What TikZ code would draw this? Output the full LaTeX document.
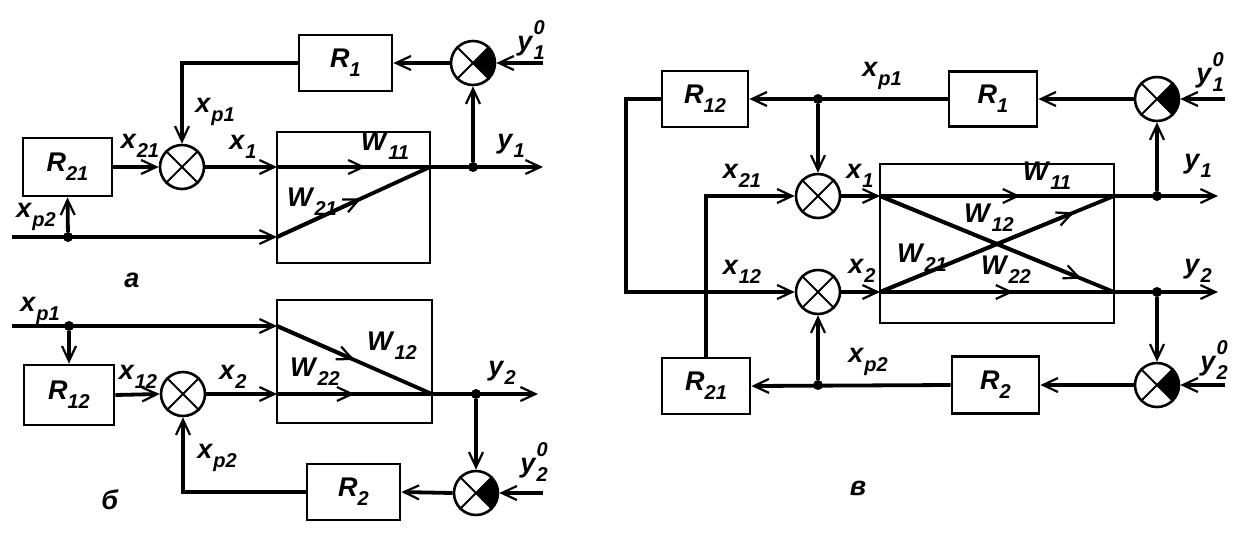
\documentclass[tikz,border=0pt]{standalone}
\usepackage{fontspec}
\setmainfont{Liberation Sans}
\usetikzlibrary{arrows.meta,calc}
\newcommand\lab[2]{\textit{#1}\raisebox{-0.34em}{\fontsize{20}{20}\selectfont\textit{#2}}}
\newcommand\labz[2]{\textit{#1}\rlap{\raisebox{0.62em}{\fontsize{20}{20}\selectfont\textit{0}}}\raisebox{-0.34em}{\fontsize{20}{20}\selectfont\textit{#2}}}
\newcommand\blackq[1]{\begin{scope}\clip (#1.center) -- ++(40,40) -- ++(0,-80) -- cycle;\fill (#1.center) circle[radius=22];\end{scope}}
\newcommand\midarr[3]{\draw[sig,->] (#1) -- ($(#1)!#3!(#2)$);}
\newcommand\xlines[1]{\draw[xl] (#1.45) -- (#1.225) (#1.135) -- (#1.315);}
\begin{document}
\begin{tikzpicture}[x=1pt,y=-1pt,
  >={Straight Barb[length=15pt,width=14pt,line width=2.2pt]},
  sig/.style={line width=3.8pt},
  box/.style={draw,line width=2.8pt,inner sep=0,font=\fontsize{27}{29}\selectfont\bfseries},
  wbox/.style={draw,line width=2.8pt,inner sep=0},
  sumn/.style={draw,circle,line width=2.6pt,minimum size=44,inner sep=0},
  xl/.style={line width=2pt},
  lbl/.style={inner sep=0,font=\fontsize{27}{29}\selectfont\bfseries},
  dotn/.style={circle,fill,minimum size=10,inner sep=0}]
\useasboundingbox (0,0) rectangle (1243,542);

% ================= a =================
\node[box,minimum width=93,minimum height=56] (aR1) at (345.5,63) {\lab{R}{1}};
\node[sumn] (aC) at (473,63) {};
\node[sumn] (aS) at (182,167) {};
\node[box,minimum width=89,minimum height=58] (aR21) at (67.5,167) {\lab{R}{21}};
\node[wbox,minimum width=153,minimum height=131] (aW) at (353.5,197.5) {};
\coordinate (aWi1) at (277,167);
\coordinate (aWo) at (430,167);
\coordinate (aWi2) at (277,237);
\coordinate (aOut) at (543,167);
\coordinate (aIn0) at (543,63);
\coordinate (aInp2) at (12,237);
\node[dotn] (aDy) at (473,167) {};
\node[dotn] (aDp) at (68,237) {};
\blackq{aC}
\xlines{aC}
\xlines{aS}
\draw[sig,->] (aIn0) -- (aC.east);
\draw[sig,->] (aC.west) -- (aR1.east);
\draw[sig,->] (aR1.west) -| (aS.north);
\draw[sig,->] (aR21.east) -- (aS.west);
\draw[sig] (aWi1) -- (aWo);
\draw[sig] (aWi2) -- (aWo);
\midarr{aWi1}{aWo}{0.58}
\midarr{aWi2}{aWo}{0.55}
\draw[sig,->] (aS.east) -- (aWi1);
\draw[sig,->] (aWo) -- (aOut);
\draw[sig,->] (aDy) -- (aC.south);
\draw[sig,->] (aInp2) -- (aWi2);
\draw[sig,->] (aDp) -- (aR21.south);
\node[lbl] (aLxp1) at (215,112) {\lab{x}{р1}};
\node[lbl] (aLx21) at (140,146) {\lab{x}{21}};
\node[lbl] (aLx1) at (243,147) {\lab{x}{1}};
\node[lbl] (aLW11) at (385,146) {\lab{W}{11}};
\node[lbl] (aLW21) at (312,202) {\lab{W}{21}};
\node[lbl] (aLy1) at (511,146) {\lab{y}{1}};
\node[lbl] (aLxp2) at (36,217) {\lab{x}{р2}};
\node[lbl] (aLy10) at (531,40) {\labz{y}{1}};
\node[lbl] (aLa) at (132,280) {\textit{а}};

% ================= b =================
\node[box,minimum width=90,minimum height=60] (bR12) at (69,395) {\lab{R}{12}};
\node[sumn] (bS) at (183,394) {};
\node[wbox,minimum width=155,minimum height=123] (bW) at (354.5,361.5) {};
\node[sumn] (bC) at (476,493) {};
\node[box,minimum width=93,minimum height=56] (bR2) at (353.5,492) {\lab{R}{2}};
\coordinate (bWi1) at (277,326);
\coordinate (bWi2) at (277,394);
\coordinate (bWo) at (432,394);
\coordinate (bOut) at (538,394);
\coordinate (bInp1) at (12,326);
\coordinate (bIn0) at (543,493);
\node[dotn] (bDp) at (69,326) {};
\node[dotn] (bDy) at (476,394) {};
\blackq{bC}
\xlines{bC}
\xlines{bS}
\draw[sig,->] (bInp1) -- (bWi1);
\draw[sig,->] (bDp) -- (bR12.north);
\draw[sig,->] (bR12.east) -- (bS.west);
\draw[sig] (bWi2) -- (bWo);
\draw[sig] (bWi1) -- (bWo);
\midarr{bWi2}{bWo}{0.5}
\midarr{bWi1}{bWo}{0.5}
\draw[sig,->] (bS.east) -- (bWi2);
\draw[sig,->] (bWo) -- (bOut);
\draw[sig,->] (bDy) -- (bC.north);
\draw[sig,->] (bIn0) -- (bC.east);
\draw[sig,->] (bC.west) -- (bR2.east);
\draw[sig,->] (bR2.west) -| (bS.south);
\node[lbl] (bLxp1) at (40,311) {\lab{x}{р1}};
\node[lbl] (bLx12) at (138,377) {\lab{x}{12}};
\node[lbl] (bLx2) at (233,377) {\lab{x}{2}};
\node[lbl] (bLW22) at (315,372) {\lab{W}{22}};
\node[lbl] (bLW12) at (392,346) {\lab{W}{12}};
\node[lbl] (bLy2) at (502,373) {\lab{y}{2}};
\node[lbl] (bLxp2) at (217,458) {\lab{x}{р2}};
\node[lbl] (bLy20) at (534,462) {\labz{y}{2}};
\node[lbl] (bLb) at (110,500) {\textit{б}};

% ================= v =================
\node[box,minimum width=86,minimum height=56] (cR12) at (705,99) {\lab{R}{12}};
\node[box,minimum width=88,minimum height=55] (cR1) at (993,99) {\lab{R}{1}};
\node[sumn] (cC1) at (1157,99) {};
\node[sumn] (cS1) at (818,196) {};
\node[sumn] (cS2) at (818,292) {};
\node[wbox,minimum width=234,minimum height=159] (cW) at (997,243.5) {};
\node[box,minimum width=88,minimum height=56] (cR21) at (706,386) {\lab{R}{21}};
\node[box,minimum width=87,minimum height=57] (cR2) at (995.5,385) {\lab{R}{2}};
\node[sumn] (cC2) at (1157,385) {};
\coordinate (cWi1) at (880,196);
\coordinate (cWi2) at (880,292);
\coordinate (cWo1) at (1114,196);
\coordinate (cWo2) at (1114,292);
\coordinate (cOut1) at (1218,196);
\coordinate (cOut2) at (1218,292);
\coordinate (cIn1) at (1225,99);
\coordinate (cIn2) at (1225,385);
\node[dotn] (cDp1) at (818,99) {};
\node[dotn] (cDp2) at (818,385) {};
\node[dotn] (cDy1) at (1157,196) {};
\node[dotn] (cDy2) at (1157,292) {};
\blackq{cC1}
\blackq{cC2}
\xlines{cC1}
\xlines{cC2}
\xlines{cS1}
\xlines{cS2}
\draw[sig,->] (cIn1) -- (cC1.east);
\draw[sig,->] (cC1.west) -- (cR1.east);
\draw[sig,->] (cR1.west) -- (cR12.east);
\draw[sig,->] (cDp1) -- (cS1.north);
\draw[sig,->] (cR12.west) -- ++(-35,0) |- (cS2.west);
\draw[sig,->] (cR21.north) |- (cS1.west);
\draw[sig] (cWi1) -- (cWo1);
\draw[sig] (cWi2) -- (cWo2);
\draw[sig] (cWi1) -- (cWo2);
\draw[sig] (cWi2) -- (cWo1);
\midarr{cWi1}{cWo1}{0.6}
\midarr{cWi2}{cWo2}{0.57}
\midarr{cWi1}{cWo2}{0.86}
\midarr{cWi2}{cWo1}{0.83}
\draw[sig,->] (cS1.east) -- (cWi1);
\draw[sig,->] (cS2.east) -- (cWi2);
\draw[sig,->] (cWo1) -- (cOut1);
\draw[sig,->] (cWo2) -- (cOut2);
\draw[sig,->] (cDy1) -- (cC1.south);
\draw[sig,->] (cDy2) -- (cC2.north);
\draw[sig,->] (cIn2) -- (cC2.east);
\draw[sig,->] (cC2.west) -- (cR2.east);
\draw[sig,->] (cR2.west) -- (cR21.east);
\draw[sig,->] (cDp2) -- (cS2.south);
\node[lbl] (cLxp1) at (882,76) {\lab{x}{р1}};
\node[lbl] (cLy10) at (1210,72) {\labz{y}{1}};
\node[lbl] (cLx21) at (742,176) {\lab{x}{21}};
\node[lbl] (cLx1) at (860,176) {\lab{x}{1}};
\node[lbl] (cLW11) at (1047,176) {\lab{W}{11}};
\node[lbl] (cLW12) at (989,218) {\lab{W}{12}};
\node[lbl] (cLW21) at (922,258) {\lab{W}{21}};
\node[lbl] (cLW22) at (1006,270) {\lab{W}{22}};
\node[lbl] (cLy1) at (1198,166) {\lab{y}{1}};
\node[lbl] (cLy2) at (1198,271) {\lab{y}{2}};
\node[lbl] (cLx12) at (742,272) {\lab{x}{12}};
\node[lbl] (cLx2) at (862,271) {\lab{x}{2}};
\node[lbl] (cLxp2) at (868,362) {\lab{x}{р2}};
\node[lbl] (cLy20) at (1214,360) {\labz{y}{2}};
\node[lbl] (cLv) at (858,488) {\textit{в}};
\end{tikzpicture}
\end{document}
